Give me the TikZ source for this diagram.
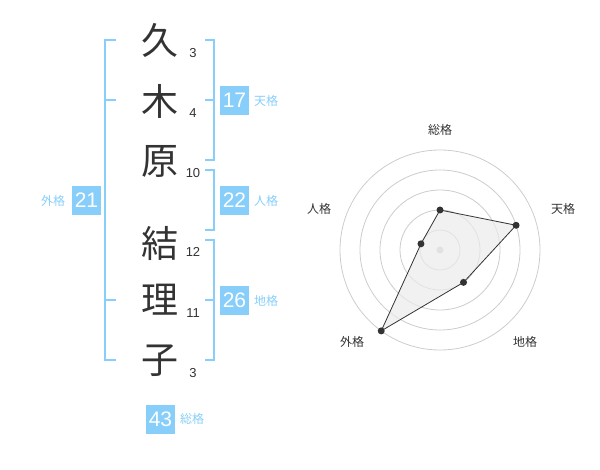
\documentclass[tikz,border=0pt]{standalone}
\usepackage{fontspec}
\setmainfont{Liberation Sans}
\newfontfamily\jp{Noto Sans CJK JP}
\definecolor{sky}{RGB}{135,206,250}
\definecolor{ink}{RGB}{51,51,51}
\definecolor{ring}{RGB}{204,204,204}
\begin{document}
\begin{tikzpicture}[x=1pt,y=-1pt,
  kanji/.style={font=\jp\fontsize{37}{37}\selectfont, text=ink, inner sep=0pt},
  strokes/.style={font=\fontsize{13}{13}\selectfont, text=ink, inner sep=0pt},
  numbox/.style={fill=sky, text=white, minimum width=29pt, minimum height=29pt, inner sep=0pt, font=\fontsize{21}{21}\selectfont},
  kaku/.style={text=sky, font=\jp\fontsize{12}{12}\selectfont, inner sep=0pt},
  brk/.style={draw=sky, line width=2pt},
  radlab/.style={text=ink, font=\jp\fontsize{12}{12}\selectfont, inner sep=0pt},
  dot/.style={circle, fill=ink, inner sep=0pt, minimum size=7pt}]
\useasboundingbox (0,0) rectangle (600,470);
% name characters
\node[kanji] (c1) at (160,40) {久};
\node[kanji] (c2) at (160,101) {木};
\node[kanji] (c3) at (160,161) {原};
\node[kanji] (c4) at (160,243) {結};
\node[kanji] (c5) at (160,300) {理};
\node[kanji] (c6) at (160,361) {子};
\node[strokes] (s1) at (193,53) {3};
\node[strokes] (s2) at (193,113) {4};
\node[strokes] (s3) at (193,173) {10};
\node[strokes] (s4) at (193,252) {12};
\node[strokes] (s5) at (193,313) {11};
\node[strokes] (s6) at (193,373) {3};
% brackets
\draw[brk] (116,40) -- (105,40) -- (105,360) -- (116,360);
\draw[brk] (105,100) -- (116,100);
\draw[brk] (105,300) -- (116,300);
\draw[brk] (205,40) -- (214,40) -- (214,160) -- (205,160);
\draw[brk] (205,100) -- (214,100);
\draw[brk] (205,170) -- (214,170) -- (214,230) -- (205,230);
\draw[brk] (205,240) -- (214,240) -- (214,360) -- (205,360);
\draw[brk] (205,300) -- (214,300);
% boxes
\node[numbox] (ten) at (234.5,100.5) {17};
\node[kaku] (tenl) at (266,100.5) {天格};
\node[numbox] (jin) at (234.5,200.5) {22};
\node[kaku] (jinl) at (266,200.5) {人格};
\node[numbox] (chi) at (234.5,300.5) {26};
\node[kaku] (chil) at (266,300.5) {地格};
\node[numbox] (gai) at (86.5,200.5) {21};
\node[kaku] (gail) at (53,200.5) {外格};
\node[numbox] (sou) at (160.5,419) {43};
\node[kaku] (soul) at (192,419) {総格};
% radar
\begin{scope}[shift={(440,250)}, y=1pt]
  \foreach \r in {20,40,60,80,100} \draw[ring, line width=0.8pt] (0,0) circle[radius=\r];
  \fill[ring] (0,0) circle[radius=3.5];
  \coordinate (pS) at (90:40);
  \coordinate (pT) at (18:80);
  \coordinate (pC) at (-54:40);
  \coordinate (pG) at (-126:100);
  \coordinate (pJ) at (162:20);
  \filldraw[fill=black!8, fill opacity=0.7, draw=ink, line width=0.8pt] (pS) -- (pT) -- (pC) -- (pG) -- (pJ) -- cycle;
  \foreach \p in {pS,pT,pC,pG,pJ} \node[dot] at (\p) {};
\end{scope}
\node[radlab] (rS) at (440,130) {総格};
\node[radlab] (rT) at (563,208.5) {天格};
\node[radlab] (rC) at (525,341.5) {地格};
\node[radlab] (rG) at (352,341.5) {外格};
\node[radlab] (rJ) at (319,208.5) {人格};
\end{tikzpicture}
\end{document}
